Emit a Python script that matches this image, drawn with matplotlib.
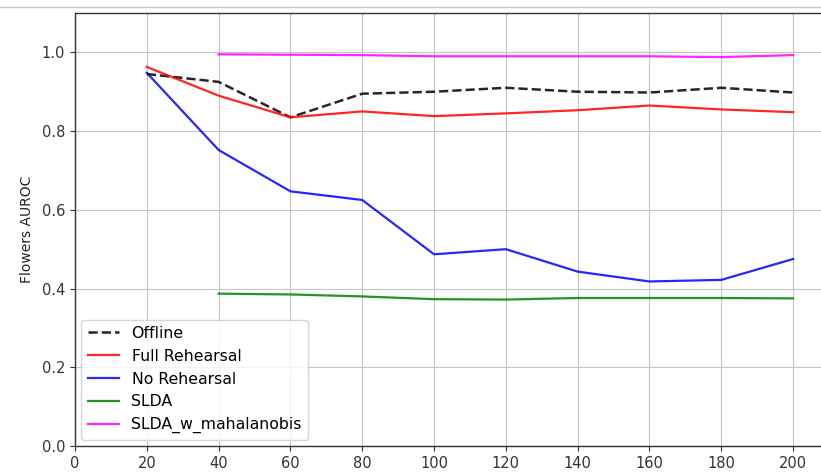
import matplotlib
matplotlib.use("Agg")
import matplotlib.pyplot as plt
from matplotlib.lines import Line2D

x_full = [20, 40, 60, 80, 100, 120, 140, 160, 180, 200]
x_slda = [40, 60, 80, 100, 120, 140, 160, 180, 200]

offline = [0.945, 0.925, 0.835, 0.895, 0.900, 0.910, 0.900, 0.898, 0.910, 0.898]
full_rehearsal = [0.963, 0.890, 0.835, 0.850, 0.838, 0.845, 0.853, 0.865, 0.855, 0.848]
no_rehearsal = [0.948, 0.752, 0.647, 0.625, 0.487, 0.500, 0.443, 0.418, 0.422, 0.475]
slda = [0.387, 0.385, 0.380, 0.373, 0.372, 0.376, 0.376, 0.376, 0.375]
slda_maha = [0.995, 0.994, 0.993, 0.990, 0.990, 0.990, 0.990, 0.988, 0.993]

xticks = [0, 20, 40, 60, 80, 100, 120, 140, 160, 180, 200]
yticks = [0.0, 0.2, 0.4, 0.6, 0.8, 1.0]

fig = plt.figure(figsize=(8.21, 4.72), dpi=100)
ax = fig.add_axes([75/821, 1 - 446/472, 754/821, (446 - 13)/472])

ax.plot(x_full, offline, 'k--', lw=1.8, alpha=0.85, label='Offline')
ax.plot(x_full, full_rehearsal, color='red', lw=1.6, alpha=0.85, label='Full Rehearsal')
ax.plot(x_full, no_rehearsal, color='blue', lw=1.6, alpha=0.85, label='No Rehearsal')
ax.plot(x_slda, slda, color='green', lw=1.6, alpha=0.85, label='SLDA')
ax.plot(x_slda, slda_maha, color='magenta', lw=1.6, alpha=0.85, label='SLDA_w_mahalanobis')

ax.set_xlim(0, 210)
ax.set_ylim(0, 1.1)
ax.set_xticks(xticks)
ax.set_yticks(yticks)
ax.set_yticklabels([f"{v:.1f}" for v in yticks])
ax.tick_params(labelsize=10.5, colors='#333333')
ax.grid(True, color='#c4c4c4', lw=0.8)
ax.set_ylabel('Flowers AUROC', fontsize=10, color='#222222')
ax.yaxis.set_label_coords(-0.055, 0.5)
for s in ax.spines.values():
    s.set_color('#333333')
    s.set_linewidth(1.0)

ax.legend(loc='lower left', fontsize=11.3, framealpha=0.8, borderaxespad=0.4,
          handlelength=2.0)

fig.add_artist(Line2D([0, 1], [1 - 7/472, 1 - 7/472], color='#c8c8c8', lw=1.0, transform=fig.transFigure))

fig.savefig('out.png', dpi=100)
